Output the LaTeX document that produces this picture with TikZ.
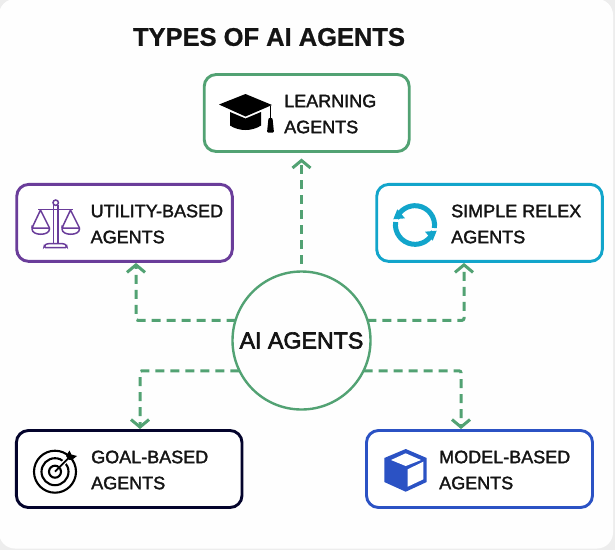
\documentclass[tikz,border=0pt]{standalone}
\usepackage{fontspec}
\usepackage{xcolor}
\usetikzlibrary{calc, arrows.meta}
\setmainfont{Liberation Sans}
\newfontfamily\mediumfont{Liberation Sans}[FakeBold=1.8]
\newfontfamily\hubfont{Liberation Sans}[FakeBold=2.6]
\newfontfamily\titlefont{Liberation Sans Bold}[FakeBold=0.8]

\definecolor{flowgreen}{HTML}{52A273}
\definecolor{utilitypurple}{HTML}{6A3D9A}
\definecolor{relexcyan}{HTML}{12A5CB}
\definecolor{goalnavy}{HTML}{04042C}
\definecolor{modelblue}{HTML}{2B52C4}
\definecolor{inkblack}{HTML}{141414}
\definecolor{pagegray}{HTML}{EDEDED}
\definecolor{cardwhite}{HTML}{FEFEFE}

\tikzset{
    agentbox/.style={draw, line width=2.9pt, rounded corners=12pt, fill=white, inner sep=0pt, outer sep=0pt, minimum height=77pt},
    agentlabel/.style={anchor=west, align=left, inner sep=0pt, text=inkblack, font=\mediumfont\fontsize{18}{26}\selectfont},
    flow/.style={draw=flowgreen, line width=3pt, dash pattern=on 9pt off 6pt, rounded corners=2pt, -{Straight Barb[length=7.5pt, width=18pt, line width=3pt]}}
}

\begin{document}
\begin{tikzpicture}[x=1pt, y=-1pt]
    \useasboundingbox (0,0) rectangle (615,550);

    % 1. Page and card
    \fill[pagegray] (0,0) rectangle (615,550);
    \fill[cardwhite, rounded corners=16pt] (-1,-1) rectangle (613,548.5);

    % 2. Title and centre
    \node[font=\titlefont\fontsize{25.5}{30}\selectfont, text=inkblack] (title) at (269,37) {TYPES OF AI AGENTS};
    \node[circle, draw=flowgreen, line width=2.4pt, minimum size=138pt, inner sep=0pt, outer sep=0pt, text=inkblack, font=\hubfont\fontsize{23.2}{28}\selectfont] (hub) at (301.5,340.5) {AI AGENTS};

    % 3. Boxes
    \node[agentbox, draw=flowgreen, minimum width=205pt] (learning) at (306.7,113) {};
    \node[agentbox, draw=utilitypurple, minimum width=215.6pt] (utility) at (124.5,222.9) {};
    \node[agentbox, draw=relexcyan, minimum width=225.6pt] (relex) at (489.5,222.9) {};
    \node[agentbox, draw=goalnavy, minimum width=225.6pt] (goal) at (129.2,469) {};
    \node[agentbox, draw=modelblue, minimum width=226pt] (model) at (479.5,469) {};

    % 4. Labels
    \node[agentlabel] (learninglabel) at (284,114) {LEARNING\\AGENTS};
    \node[agentlabel] (utilitylabel) at (90.5,224) {UTILITY-BASED\\AGENTS};
    \node[agentlabel] (relexlabel) at (451,224) {SIMPLE RELEX\\AGENTS};
    \node[agentlabel] (goallabel) at (91,470) {GOAL-BASED\\AGENTS};
    \node[agentlabel] (modellabel) at (439,470) {MODEL-BASED\\AGENTS};

    % 5. Connectors
    \draw[flow, shorten <=8pt, shorten >=7pt] (hub.north) -- (hub.north |- learning.south);
    \draw[flow, shorten >=1.5pt] (hub.163) -| ([xshift=11.5pt]utility.south);
    \draw[flow, shorten >=1.5pt] (hub.17) -| ([xshift=-25.5pt]relex.south);
    \draw[flow, shorten >=1.5pt] (hub.206) -| ([xshift=10.8pt]goal.north);
    \draw[flow, shorten >=1.5pt] (hub.-26) -| ([xshift=-18.5pt]model.north);

    % 6. Graduation cap
    \fill[black] (219,104.5) -- (245.5,94) -- (272,105) -- (245.5,116.5) -- cycle;
    \fill[black] (230,112) -- (245.5,118.5) -- (261,112) -- (261,125.5) .. controls (252,131.5) and (239,131.5) .. (230,125.5) -- cycle;
    \draw[black, line width=1.2pt] (270.5,105.5) -- (270.5,120);
    \fill[black, rounded corners=1pt] (268.5,118) -- (272.5,118) -- (274,132.5) -- (267,132.5) -- cycle;

    % 7. Scales
    \begin{scope}[utilitypurple, line width=1.5pt]
        \draw (55.7,202.7) circle[radius=2.7pt];
        \draw (53.6,205.2) -- (53.6,243.5) (57.8,205.2) -- (57.8,243.5);
        \draw (38,209.5) -- (73,209.5);
        \draw (40.5,210) -- (32,228) (40.5,210) -- (49.5,228);
        \draw[rounded corners=1pt] (32,228) -- (49.5,228) .. controls (49.5,236) and (32,236) .. (32,228) -- cycle;
        \draw (70.5,210) -- (62,228) (70.5,210) -- (79.5,228);
        \draw[rounded corners=1pt] (62,228) -- (79.5,228) .. controls (79.5,236) and (62,236) .. (62,228) -- cycle;
        \draw[rounded corners=1.5pt] (44,247.5) -- (44.5,245) -- (48,243.5) -- (63,243.5) -- (66.5,245) -- (67,247.5) -- cycle;
    \end{scope}

    % 8. Refresh arrows
    \begin{scope}[relexcyan]
        \draw[line width=5pt] (434.4,228) arc[start angle=-8, end angle=160, radius=19.6pt];
        \fill (397.3,209.3) -- (393.3,219.3) -- (405,218.3) -- cycle;
        \draw[line width=5pt] (395.6,222) arc[start angle=172, end angle=340, radius=19.6pt];
        \fill (432.7,240.7) -- (436.7,230.7) -- (425,231.7) -- cycle;
    \end{scope}

    % 9. Target
    \draw[black, line width=2.1pt] (55,471.7) circle[radius=21pt];
    \draw[black, line width=2.1pt] (55,471.7) circle[radius=13.5pt];
    \draw[black, line width=2.1pt] (55,471.7) circle[radius=6pt];
    \draw[white, line width=4.5pt] (60,466.5) -- (73,453.5);
    \draw[black, line width=1.8pt] (55,471.7) -- (69,457.5);
    \fill[black] (66,456) -- (69.5,450.5) -- (71.5,454.5) -- (77,456) -- (72.5,459.5) -- (69,460) -- cycle;

    % 10. Cube
    \fill[modelblue] (405.7,449) -- (426.7,458) -- (426.7,482) -- (405.7,491.7) -- (384.3,482) -- (384.3,458) -- cycle;
    \fill[white] (405.7,453.3) -- (421,460) -- (405.7,466) -- (391,460) -- cycle;
    \fill[white] (407.7,469.3) -- (423.3,461.7) -- (423.3,479.3) -- (407.7,486.7) -- cycle;
\end{tikzpicture}
\end{document}
